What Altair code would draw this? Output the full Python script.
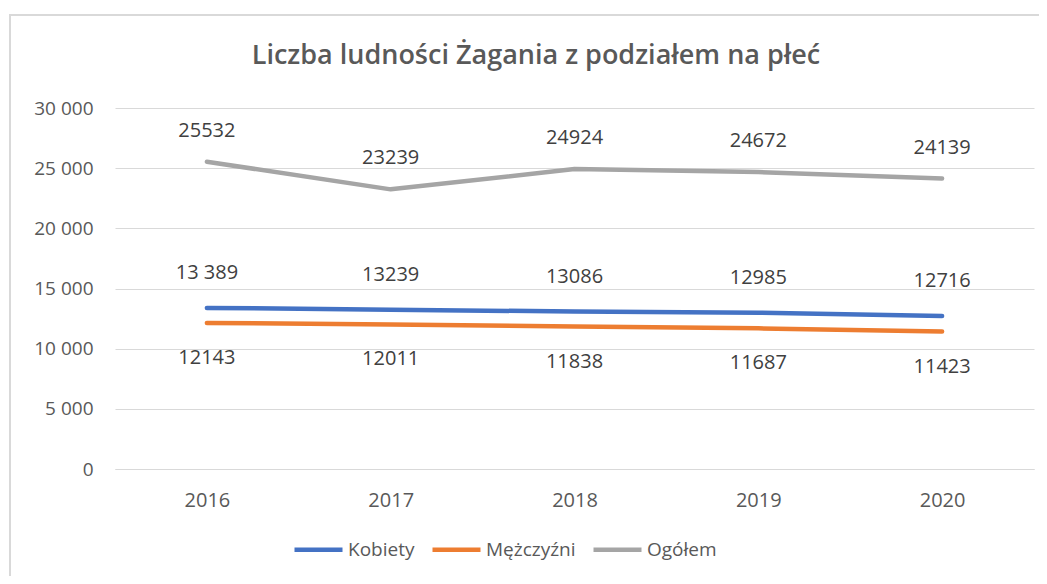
import altair as alt
import pandas as pd

years = ["2016", "2017", "2018", "2019", "2020"]
series_names = ["Kobiety", "Mężczyźni", "Ogółem"]
kobiety = [13389, 13239, 13086, 12985, 12716]
mezczyzni = [12143, 12011, 11838, 11687, 11423]
ogolem = [25532, 23239, 24924, 24672, 24139]
kobiety_labels = ["13 389", "13239", "13086", "12985", "12716"]
mezczyzni_labels = ["12143", "12011", "11838", "11687", "11423"]
ogolem_labels = ["25532", "23239", "24924", "24672", "24139"]
colors = ["#4472C4", "#ED7D31", "#A5A5A5"]
y_ticks = [0, 5000, 10000, 15000, 20000, 25000, 30000]
title_text = "Liczba ludności Żagania z podziałem na płeć"

rows = []
for name, vals, labs in zip(series_names, [kobiety, mezczyzni, ogolem],
                            [kobiety_labels, mezczyzni_labels, ogolem_labels]):
    for yr, v, l in zip(years, vals, labs):
        rows.append({"rok": yr, "seria": name, "wartosc": v, "etykieta": l})
df = pd.DataFrame(rows)

FONT = "Open Sans"

x_enc = alt.X("rok:N", sort=years, scale=alt.Scale(type="point", padding=0.5),
              axis=alt.Axis(title=None, labelAngle=0, ticks=False, domain=True,
                            domainColor="#D9D9D9", labelPadding=21, labelFontSize=20,
                            labelColor="#595959", labelFont=FONT))
y_enc = alt.Y("wartosc:Q", scale=alt.Scale(domain=[0, 30000], nice=False),
              axis=alt.Axis(title=None, values=y_ticks, ticks=False, domain=False,
                            gridColor="#D9D9D9", gridWidth=1, labelPadding=22,
                            labelFontSize=19, labelColor="#595959", labelFont=FONT,
                            labelExpr="replace(format(datum.value, ','), ',', ' ')"))

border = alt.Chart(alt.Data(values=[{}])).mark_rect(
    fill=None, stroke="#D9D9D9", strokeWidth=2
).encode(x=alt.value(-105), x2=alt.value(1100), y=alt.value(-93), y2=alt.value(700))

title = alt.Chart(alt.Data(values=[{"t": title_text}])).mark_text(
    fontSize=27, font=FONT, fontWeight=600, color="#595959", align="center",
    baseline="alphabetic"
).encode(text="t:N", x=alt.value(421), y=alt.value(-44))

base = alt.Chart(df)

lines = base.mark_line(strokeWidth=4.5, strokeCap="round", strokeJoin="round").encode(
    x=x_enc, y=y_enc,
    color=alt.Color("seria:N", sort=series_names,
                    scale=alt.Scale(domain=series_names, range=colors),
                    legend=alt.Legend(title=None, orient="none", direction="horizontal",
                                      legendX=177, legendY=415, symbolType="stroke",
                                      symbolSize=2304, symbolStrokeWidth=4.5,
                                      labelFontSize=19, labelFont=FONT, labelColor="#595959",
                                      labelOffset=3, columnPadding=8))
)

def labels(name, dy):
    return base.transform_filter(alt.datum.seria == name).mark_text(
        dy=dy, fontSize=20, font=FONT, color="#404040"
    ).encode(x=alt.X("rok:N", sort=years), y="wartosc:Q", text="etykieta:N")

chart = alt.layer(
    border, title, lines,
    labels("Ogółem", -31), labels("Kobiety", -35), labels("Mężczyźni", 35)
).properties(
    width=919, height=361,
    padding={"left": 107, "top": 100, "right": 5, "bottom": 107},
    autosize=alt.AutoSizeParams(type="none"),
).configure(background="white").configure_view(stroke=None)

chart.save("out.html", embed_options={"renderer": "svg", "actions": False})
